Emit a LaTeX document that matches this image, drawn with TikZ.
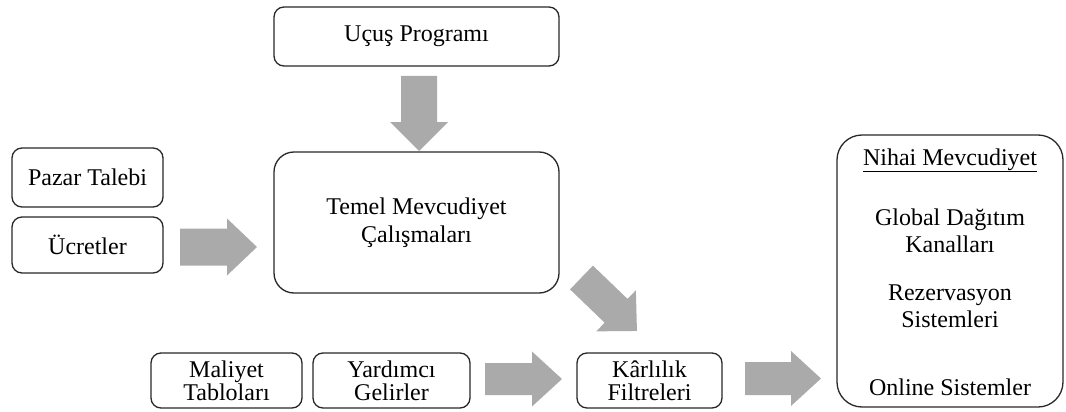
\documentclass[tikz,border=0pt]{standalone}
\usepackage{fontspec}
\setmainfont{Liberation Serif}
\usetikzlibrary{calc}
\definecolor{edge}{RGB}{40,40,40}
\definecolor{arrowgray}{RGB}{170,170,170}

% block arrow from #1 to #2: shaft width #3, head width #4, head length #5
\newcommand\blockarrow[5]{%
  \fill[arrowgray] let \p1=(#1), \p2=(#2),
      \n1={atan2(\y2-\y1,\x2-\x1)}, \n2={veclen(\x2-\x1,\y2-\y1)} in
    [shift={(\p1)}, rotate=\n1]
    (0,-#3/2) -- ({\n2-#5},-#3/2) -- ({\n2-#5},-#4/2) -- (\n2,0)
    -- ({\n2-#5},#4/2) -- ({\n2-#5},#3/2) -- (0,#3/2) -- cycle;}

\begin{document}
\begin{tikzpicture}[x=1pt,y=-1pt,
  box/.style={draw=edge, line width=1.3pt, rounded corners=10pt, align=center,
    inner sep=0pt, font=\fontsize{24}{28}\selectfont},
  bigbox/.style={box, rounded corners=20pt},
  lowbox/.style={box, font=\fontsize{24}{23}\selectfont},
  label/.style={anchor=base, inner sep=0pt, font=\fontsize{24}{28}\selectfont}]

\useasboundingbox[fill=white] (0,0) rectangle (1066,412);

% boxes
\node[box, minimum width=285, minimum height=59] (prog) at (416.5,36.5) {Uçuş Programı};
\node[bigbox, minimum width=285, minimum height=141] (temel) at (416.5,222.5)
  {Temel Mevcudiyet\\Çalışmaları};
\node[box, minimum width=151, minimum height=59] (pazar) at (87.5,177.5) {Pazar Talebi};
\node[box, minimum width=151, minimum height=56] (ucret) at (87.5,245) {Ücretler};
\node[lowbox, minimum width=151, minimum height=55] (maliyet) at (226.5,380.5) {Maliyet\\Tabloları};
\node[lowbox, minimum width=157, minimum height=55] (yardim) at (391.5,380.5) {Yardımcı\\Gelirler};
\node[lowbox, minimum width=145, minimum height=55] (karlilik) at (649.5,380.5) {Kârlılık\\Filtreleri};
\node[bigbox, rounded corners=25pt, minimum width=226, minimum height=272] (nihai) at (950,271) {};

% contents of the final box
\node[label] (n1) at (950,165) {\underline{Nihai Mevcudiyet}};
\node[label] (n2) at (950,225) {Global Dağıtım};
\node[label] (n3) at (950,252) {Kanalları};
\node[label] (n4) at (950,300) {Rezervasyon};
\node[label] (n5) at (950,327) {Sistemleri};
\node[label] (n6) at (950,395) {Online Sistemler};

% arrow end points
\coordinate (a1s) at (419,76);    \coordinate (a1e) at (419,151);
\coordinate (a2s) at (180,247);   \coordinate (a2e) at (257,247);
\coordinate (a3s) at (581.5,277.5); \coordinate (a3e) at (637,331);
\coordinate (a4s) at (485,379);   \coordinate (a4e) at (562,379);
\coordinate (a5s) at (745,378.5); \coordinate (a5e) at (821,378.5);

\blockarrow{a1s}{a1e}{36}{58}{29}
\blockarrow{a2s}{a2e}{37}{57}{30}
\blockarrow{a3s}{a3e}{33}{57}{29}
\blockarrow{a4s}{a4e}{32}{55}{30}
\blockarrow{a5s}{a5e}{33}{55}{30}
\end{tikzpicture}
\end{document}
